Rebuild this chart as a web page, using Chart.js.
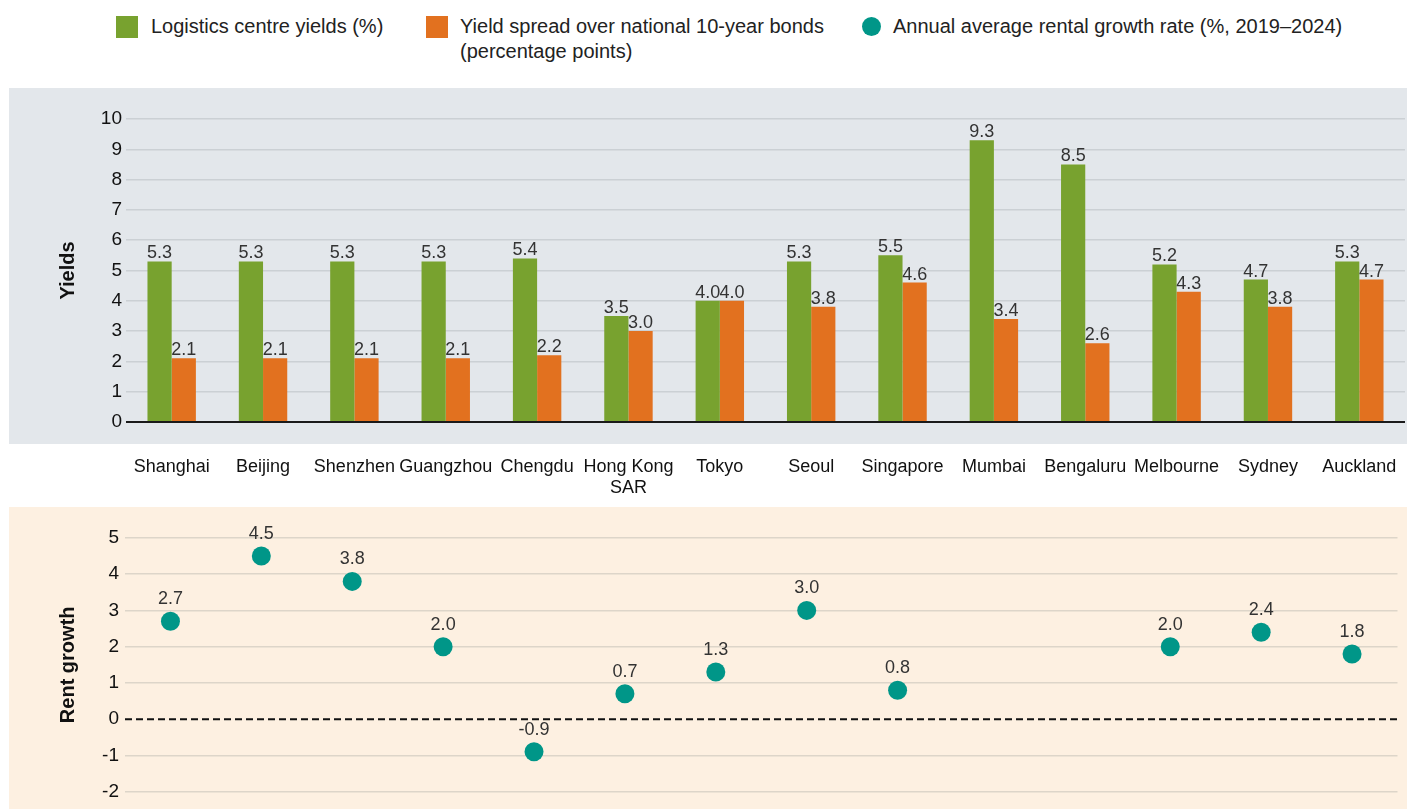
<!DOCTYPE html>
<html lang="en">
<head>
    <meta charset="UTF-8">
    <title>Logistics yields and rent growth</title>
    <script src="https://cdn.jsdelivr.net/npm/chart.js"></script>
    <style>
        body {
            margin: 0;
            width: 1407px;
            height: 809px;
            position: relative;
            overflow: hidden;
            background: #ffffff;
            font-family: 'Liberation Sans', Arial, Helvetica, sans-serif;
            color: #222;
        }
        .swatch { position: absolute; width: 22px; height: 22px; }
        .legend-text { position: absolute; font-size: 20px; line-height: 25px; white-space: nowrap; }
        .panel { position: absolute; left: 9px; width: 1398px; }
        #topPanel { top: 88px; height: 356px; background: #e3e7eb; }
        #bottomPanel { top: 507px; height: 302px; background: #fdf0e1; }
        canvas { position: absolute; left: 0; }
        #yieldChart { top: 88px; }
        #rentChart { top: 507px; }
    </style>
</head>
<body>
    <div class="swatch" style="left:116px; top:16px; background:#78a22f;"></div>
    <div class="legend-text" style="left:151px; top:14px;">Logistics centre yields (%)</div>
    <div class="swatch" style="left:426px; top:16px; background:#e2711f;"></div>
    <div class="legend-text" style="left:460px; top:14px;">Yield spread over national 10-year bonds<br>(percentage points)</div>
    <div class="swatch" style="left:862px; top:17px; width:19px; height:19px; border-radius:50%; background:#009688;"></div>
    <div class="legend-text" style="left:893px; top:14px;">Annual average rental growth rate (%, 2019–2024)</div>

    <div class="panel" id="topPanel"></div>
    <div class="panel" id="bottomPanel"></div>
    <canvas id="yieldChart" width="1407" height="412"></canvas>
    <canvas id="rentChart" width="1407" height="313"></canvas>

    <script>
        const cities = ['Shanghai', 'Beijing', 'Shenzhen', 'Guangzhou', 'Chengdu', ['Hong Kong', 'SAR'], 'Tokyo',
            'Seoul', 'Singapore', 'Mumbai', 'Bengaluru', 'Melbourne', 'Sydney', 'Auckland'];
        const yields = [5.3, 5.3, 5.3, 5.3, 5.4, 3.5, 4.0, 5.3, 5.5, 9.3, 8.5, 5.2, 4.7, 5.3];
        const spread = [2.1, 2.1, 2.1, 2.1, 2.2, 3.0, 4.0, 3.8, 4.6, 3.4, 2.6, 4.3, 3.8, 4.7];
        const rentGrowth = [2.7, 4.5, 3.8, 2.0, -0.9, 0.7, 1.3, 3.0, 0.8, null, null, 2.0, 2.4, 1.8];

        const yieldTicks = [0, 1, 2, 3, 4, 5, 6, 7, 8, 9, 10];
        const rentTicks = [-2, -1, 0, 1, 2, 3, 4, 5];

        const FONT = "'Liberation Sans', Arial, Helvetica, sans-serif";
        const GREEN = '#78a22f', ORANGE = '#e2711f', TEAL = '#009688';

        // writes the value above each bar / dot
        const valueLabels = {
            id: 'valueLabels',
            afterDatasetsDraw(chart, args, opts) {
                const ctx = chart.ctx;
                ctx.save();
                ctx.font = '18px ' + FONT;
                ctx.fillStyle = '#333';
                ctx.textAlign = 'center';
                ctx.textBaseline = 'middle';
                chart.data.datasets.forEach((ds, i) => {
                    chart.getDatasetMeta(i).data.forEach((el, j) => {
                        const v = ds.data[j];
                        if (v === null || v === undefined) return;
                        ctx.fillText(v.toFixed(1), el.x, el.y - opts.gap);
                    });
                });
                ctx.restore();
            }
        };

        // dashed zero line for the rent panel
        const zeroLine = {
            id: 'zeroLine',
            beforeDatasetsDraw(chart) {
                const y = chart.scales.y.getPixelForValue(0);
                const {left, right} = chart.chartArea;
                const ctx = chart.ctx;
                ctx.save();
                ctx.strokeStyle = '#111';
                ctx.lineWidth = 2;
                ctx.setLineDash([7, 4]);
                ctx.beginPath();
                ctx.moveTo(left, y);
                ctx.lineTo(right, y);
                ctx.stroke();
                ctx.restore();
            }
        };

        new Chart(document.getElementById('yieldChart'), {
            type: 'bar',
            data: {
                labels: cities,
                datasets: [
                    { label: 'Logistics centre yields (%)', data: yields, backgroundColor: GREEN },
                    { label: 'Yield spread over national 10-year bonds (percentage points)', data: spread, backgroundColor: ORANGE }
                ]
            },
            options: {
                responsive: false,
                animation: false,
                categoryPercentage: 0.53,
                barPercentage: 1.0,
                layout: { padding: { top: 31, right: 2, left: 0, bottom: 0 } },
                plugins: {
                    legend: { display: false },
                    tooltip: { enabled: false },
                    valueLabels: { gap: 8 }
                },
                scales: {
                    x: {
                        grid: { display: false },
                        border: { display: false },
                        ticks: {
                            autoSkip: false, maxRotation: 0, padding: 26,
                            color: '#111', font: { family: FONT, size: 18 }
                        },
                        afterFit: s => { s.height = 78; s.paddingLeft = 0; s.paddingRight = 0; }
                    },
                    y: {
                        min: 0, max: 10,
                        afterBuildTicks: s => { s.ticks = yieldTicks.map(v => ({ value: v })); },
                        grid: {
                            drawTicks: false,
                            color: c => c.tick.value === 0 ? '#1a1a1a' : '#cbd0d4',
                            lineWidth: c => c.tick.value === 0 ? 2 : 1.5
                        },
                        border: { display: false },
                        ticks: { padding: 4, color: '#111', font: { family: FONT, size: 19 } },
                        title: {
                            display: true, text: 'Yields', color: '#111',
                            font: { family: FONT, size: 20, weight: 'bold' },
                            padding: { top: 56 }
                        },
                        afterFit: s => { s.width = 126; }
                    }
                }
            },
            plugins: [valueLabels]
        });

        new Chart(document.getElementById('rentChart'), {
            type: 'line',
            data: {
                labels: cities,
                datasets: [{
                    label: 'Annual average rental growth rate (%, 2019–2024)',
                    data: rentGrowth,
                    showLine: false,
                    pointRadius: 9.5,
                    pointBorderWidth: 0,
                    pointBackgroundColor: TEAL,
                    borderColor: TEAL
                }]
            },
            options: {
                responsive: false,
                animation: false,
                layout: { padding: { top: 20, right: 8, left: 0, bottom: 0 } },
                plugins: {
                    legend: { display: false },
                    tooltip: { enabled: false },
                    valueLabels: { gap: 22 }
                },
                scales: {
                    x: { display: false, offset: true },
                    y: {
                        min: -2.3, max: 5.3,
                        afterBuildTicks: s => { s.ticks = rentTicks.map(v => ({ value: v })); },
                        grid: {
                            drawTicks: false,
                            color: c => c.tick.value === 0 ? 'rgba(0,0,0,0)' : '#ddd5c9',
                            lineWidth: 1.5
                        },
                        border: { display: false },
                        ticks: { padding: 6, color: '#111', font: { family: FONT, size: 19 } },
                        title: {
                            display: true, text: 'Rent growth', color: '#111',
                            font: { family: FONT, size: 20, weight: 'bold' },
                            padding: { top: 56 }
                        },
                        afterFit: s => { s.width = 125; }
                    }
                }
            },
            plugins: [zeroLine, valueLabels]
        });
    </script>
</body>
</html>
